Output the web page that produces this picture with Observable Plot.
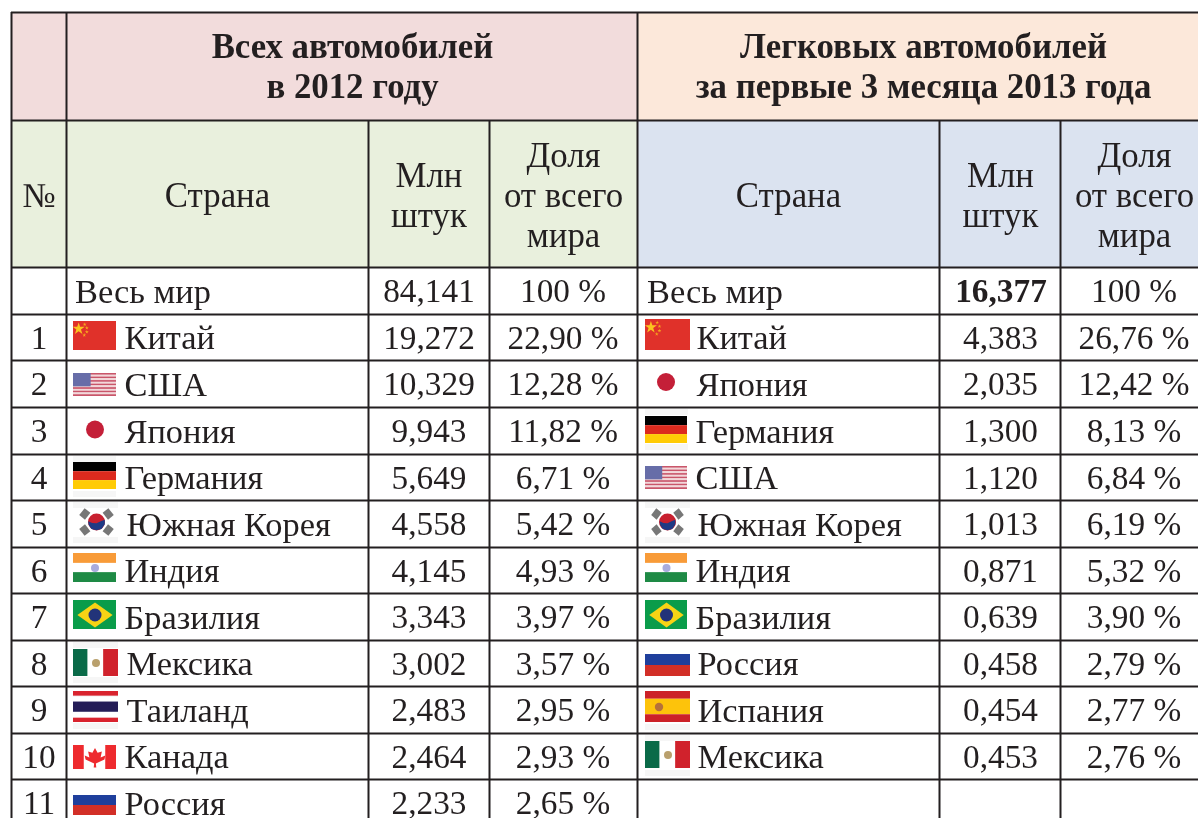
<!DOCTYPE html>
<html lang="ru">
<head>
<meta charset="utf-8">
<script src="https://cdn.jsdelivr.net/npm/d3@7"></script>
<script src="https://cdn.jsdelivr.net/npm/@observablehq/plot@0.6"></script>
<style>html,body{margin:0;padding:0;background:#fff}svg{display:block}</style>
</head>
<body>
<div id="chart"></div>
<script>
// ---------- data ----------
const ranks = ["1","2","3","4","5","6","7","8","9","10","11"];
const worldLabel = "Весь мир";
const countries2012 = ["Китай","США","Япония","Германия","Южная Корея","Индия","Бразилия","Мексика","Таиланд","Канада","Россия"];
const units2012 = ["19,272","10,329","9,943","5,649","4,558","4,145","3,343","3,002","2,483","2,464","2,233"];
const shares2012 = ["22,90 %","12,28 %","11,82 %","6,71 %","5,42 %","4,93 %","3,97 %","3,57 %","2,95 %","2,93 %","2,65 %"];
const countries2013 = ["Китай","Япония","Германия","США","Южная Корея","Индия","Бразилия","Россия","Испания","Мексика"];
const units2013 = ["4,383","2,035","1,300","1,120","1,013","0,871","0,639","0,458","0,454","0,453"];
const shares2013 = ["26,76 %","12,42 %","8,13 %","6,84 %","6,19 %","5,32 %","3,90 %","2,79 %","2,77 %","2,76 %"];
const world2012 = ["84,141","100 %"];
const world2013 = ["16,377","100 %"];
const titleLeft = "Всех автомобилей\nв 2012 году";
const titleRight = "Легковых автомобилей\nза первые 3 месяца 2013 года";
const headNo = "№", headCountry = "Страна", headUnits = "Млн\nштук", headShare = "Доля\nот всего\nмира";

// ---------- layout ----------
const W = 1198, H = 818;
const rowY = [12, 120, 267, 314, 360, 407, 454, 500, 547, 593, 640, 686, 733, 779];
const INK = "#231f20", FONT = "'Liberation Serif', serif";
const FS_NUM = 33.3, FS_WORD = 34.4, FS_HEAD = 34.8;
const midOf = i => (i + 3 < rowY.length ? (rowY[i + 2] + rowY[i + 3]) / 2 : (779 + 826) / 2) - 1;

const bgRects = [
  {x1: 11, x2: 637, y1: 12, y2: 120, f: "#f2dcdc"},
  {x1: 637, x2: W, y1: 12, y2: 120, f: "#fce8da"},
  {x1: 11, x2: 637, y1: 120, y2: 267, f: "#e9f0dd"},
  {x1: 637, x2: W, y1: 120, y2: 267, f: "#dbe3f0"}
];

const labelXLeft = [124,124,124,124,126,124,124,126,126,124,124];
const labelXRight = [696,696,695,695,697,695,695,697,697,697];

// text cells, one list for each text style
const numbers = [], labels = [], heads = [], bolds = [];
const put = (list, x, y, text) => list.push({x, y, text});
put(bolds, 352, 64.5, titleLeft);
put(bolds, 923, 64.5, titleRight);
put(heads, 38.5, 193.5, headNo);
put(heads, 217, 193.5, headCountry);
put(heads, 788, 193.5, headCountry);
for (const [cx, cs] of [[428.5, 563], [1000, 1134]]) {
  put(heads, cx, 193.5, headUnits);
  put(heads, cs, 193.5, headShare);
}
put(labels, 74.5, midOf(0), worldLabel);
put(numbers, 428.5, midOf(0), world2012[0]);
put(numbers, 562.5, midOf(0), world2012[1]);
put(labels, 646.5, midOf(0), worldLabel);
put(numbers, 1133.5, midOf(0), world2013[1]);
const boldValue = [{x: 1000.5, y: midOf(0), text: world2013[0]}];
ranks.forEach((r, i) => {
  const y = midOf(i + 1);
  put(numbers, 38.5, y, r);
  put(labels, labelXLeft[i], y, countries2012[i]);
  put(numbers, 428.5, y, units2012[i]);
  put(numbers, 562.5, y, shares2012[i]);
});
countries2013.forEach((c, i) => {
  const y = midOf(i + 1);
  put(labels, labelXRight[i], y, c);
  put(numbers, 1000, y, units2013[i]);
  put(numbers, 1133.5, y, shares2013[i]);
});

// ---------- flags, drawn in unit squares and placed in cells ----------
const stripesH = (...c) => c.map(([v1, v2, f]) => ({k: "r", u1: 0, u2: 1, v1, v2, f}));
const stripesV = (...c) => c.map(([u1, u2, f]) => ({k: "r", u1, u2, v1: 0, v2: 1, f}));
const usStripes = d3.range(13).map(i => ({k: "r", u1: 0, u2: 1, v1: i / 13, v2: (i + 1) / 13, f: i % 2 ? "#f2d8da" : "#c9566a"}));
const flagShapes = {
  china: [{k:"r",u1:0,u2:1,v1:0,v2:1,f:"#e0312a"},
    {k:"s",u:.12,v:.25,r:3.8,f:"#fbc41f"},{k:"s",u:.26,v:.1,r:1.2,f:"#f7a51e"},{k:"s",u:.31,v:.22,r:1.2,f:"#f7a51e"},{k:"s",u:.31,v:.36,r:1.2,f:"#f7a51e"},{k:"s",u:.25,v:.47,r:1.2,f:"#f7a51e"}],
  usa: [...usStripes, {k:"r",u1:0,u2:.41,v1:0,v2:.58,f:"#676da8"}],
  japan: [{k:"d",u:.5,v:.5,r:9,f:"#c41f38"}],
  germany: stripesH([0,.34,"#000"],[.34,.67,"#dc2a1e"],[.67,1,"#ffcb05"]),
  korea: [
    {k:"p",pts:[[.02,.2],[.17,-.1],[.33,.1],[.18,.4]],f:"#777"},
    {k:"p",pts:[[.67,.1],[.83,-.1],[.98,.2],[.82,.4]],f:"#777"},
    {k:"p",pts:[[.02,.8],[.18,.6],[.33,.9],[.17,1.1]],f:"#777"},
    {k:"p",pts:[[.67,.9],[.82,.6],[.98,.8],[.83,1.1]],f:"#777"},
    {k:"d",u:.5,v:.5,r:8.5,f:"#c8202f"},
    {k:"t",pts:[[.27,.47],[.38,.54],[.5,.55],[.62,.47],[.73,.4],[.73,.6],[.64,.8],[.5,.86],[.36,.8],[.28,.62]],f:"#1f3a85"}],
  india: [...stripesH([0,.34,"#f89b38"],[.66,1,"#1e8a45"]), {k:"d",u:.5,v:.5,r:4,f:"#a9abdd"}],
  brazil: [{k:"r",u1:0,u2:1,v1:0,v2:1,f:"#0a9c4a"},
    {k:"p",pts:[[.09,.5],[.5,.07],[.91,.5],[.5,.93]],f:"#f6d315"},
    {k:"d",u:.5,v:.5,r:6.5,f:"#223379"}],
  mexico: [...stripesV([0,.32,"#0a6a48"],[.67,1,"#d0222c"]), {k:"d",u:.5,v:.5,r:4,f:"#b9a06d"}],
  thailand: stripesH([0,.15,"#d9232e"],[.34,.67,"#241d57"],[.86,1,"#d9232e"]),
  canada: [...stripesV([0,.25,"#ee2a2e"],[.75,1,"#ee2a2e"]),
    {k:"p",pts:[[.5,.1],[.56,.3],[.66,.25],[.63,.5],[.74,.42],[.72,.58],[.52,.75],[.53,.92],[.47,.92],[.48,.75],[.28,.58],[.26,.42],[.37,.5],[.34,.25],[.44,.3]],f:"#ee2a2e"}],
  russia: stripesH([0,.5,"#1f3f9c"],[.5,1,"#d22f27"]),
  spain: [...stripesH([0,.25,"#cc2128"],[.25,.75,"#fdc30b"],[.75,1,"#cc2128"]),
    {k:"d",u:.3,v:.5,r:4.2,f:"#b5713a"}]
};
// placement: [shape, x1, x2, y1, y2, optional pale backing y1, y2, x2]
const placements = [
  ["china",73,116,321,350],["usa",73,116,373,396],["japan",73,116,414,444],
  ["germany",73,116,462,489,456,497,116],["korea",78,114,510,533,502,543,118],
  ["india",73,116,553,582],["brazil",73,116,600,629],
  ["mexico",73,118,649,676,642,683,118],["thailand",73,118,691,722,691,729,118],
  ["canada",73,116,745,769],["russia",73,116,795,815],
  ["china",645,690,319,350],["japan",645,686,367,396],
  ["germany",645,687,416,443,409,450,688],["usa",645,687,466,489],
  ["korea",650,684,510,533,502,543,690],
  ["india",645,687,553,582],["brazil",645,687,600,629],
  ["russia",645,690,654,676],["spain",645,690,691,722,691,730,690],
  ["mexico",645,690,741,768,735,776,690]
];
const fRects = [], fDots = [], fStars = [], fPolys = [], fTops = [], fBacks = [];
placements.forEach(([name, x1, x2, y1, y2, by1, by2, bx2], n) => {
  if (by1 !== undefined) fBacks.push({x1: name === "korea" ? x1 - 5 : x1, x2: bx2, y1: by1, y2: by2});
  const X = u => x1 + u * (x2 - x1), Y = v => y1 + v * (y2 - y1);
  flagShapes[name].forEach((s, m) => {
    if (s.k === "r") fRects.push({x1: X(s.u1), x2: X(s.u2), y1: Y(s.v1), y2: Y(s.v2), f: s.f});
    if (s.k === "d") fDots.push({x: X(s.u), y: Y(s.v), r: s.r, f: s.f});
    if (s.k === "s") fStars.push({x: X(s.u), y: Y(s.v), r: s.r, f: s.f});
    if (s.k === "p") s.pts.forEach(([u, v]) => fPolys.push({x: X(u), y: Y(v), z: `${n}-${m}`, f: s.f}));
    if (s.k === "t") s.pts.forEach(([u, v]) => fTops.push({x: X(u), y: Y(v), z: `${n}-${m}`, f: s.f}));
  });
});

// ---------- rules ----------
const hLines = rowY.map(y => ({x1: 11, x2: W, y}));
const vLines = [
  {x: 11, y1: 12, y2: H}, {x: 66, y1: 12, y2: H},
  {x: 368, y1: 120, y2: H}, {x: 489, y1: 120, y2: H},
  {x: 637, y1: 12, y2: H},
  {x: 939, y1: 120, y2: H}, {x: 1060, y1: 120, y2: H}
];
const blur = "blur(0.6px)";
const textOpts = (extra) => ({
  x: "x", y: "y", text: "text", lineAnchor: "middle", lineHeight: 1.15,
  fontFamily: FONT, fill: INK, imageFilter: "blur(0.3px)", ...extra
});

const plot = Plot.plot({
  width: W, height: H, margin: 0,
  x: {type: "linear", domain: [0, W], range: [0, W], axis: null},
  y: {type: "linear", domain: [0, H], range: [0, H], axis: null},
  r: {type: "identity"},
  color: {type: "identity"},
  style: {background: "#fff"},
  marks: [
    Plot.rect(bgRects, {x1: "x1", x2: "x2", y1: "y1", y2: "y2", fill: "f"}),
    Plot.rect(fBacks, {x1: "x1", x2: "x2", y1: "y1", y2: "y2", fill: "#f6f6f6", imageFilter: "blur(0.4px)"}),
    Plot.rect(fBacks, {x1: "x1", x2: "x2", y1: d => d.y1 + 6, y2: d => d.y2 - 6, fill: "#fff", imageFilter: "blur(0.4px)"}),
    Plot.rect(fRects, {x1: "x1", x2: "x2", y1: "y1", y2: "y2", fill: "f", imageFilter: blur}),
    Plot.line(fPolys, {x: "x", y: "y", z: "z", fill: "f", stroke: null, imageFilter: blur}),
    Plot.dot(fDots, {x: "x", y: "y", r: "r", fill: "f", stroke: null, imageFilter: blur}),
    Plot.line(fTops, {x: "x", y: "y", z: "z", fill: "f", stroke: null, imageFilter: blur}),
    Plot.dot(fStars, {x: "x", y: "y", r: "r", fill: "f", stroke: null, symbol: "star", imageFilter: blur}),
    Plot.ruleY(hLines, {x1: "x1", x2: "x2", y: "y", stroke: INK, strokeWidth: 2}),
    Plot.ruleX(vLines, {x: "x", y1: "y1", y2: "y2", stroke: INK, strokeWidth: 2}),
    Plot.text(numbers, textOpts({fontSize: FS_NUM, textAnchor: "middle"})),
    Plot.text(labels, textOpts({fontSize: FS_WORD, textAnchor: "start"})),
    Plot.text(heads, textOpts({fontSize: FS_HEAD, textAnchor: "middle"})),
    Plot.text(bolds, textOpts({fontSize: FS_HEAD, textAnchor: "middle", fontWeight: "bold"})),
    Plot.text(boldValue, textOpts({fontSize: FS_NUM, textAnchor: "middle", fontWeight: "bold"}))
  ]
});
document.getElementById("chart").appendChild(plot);
</script>
</body>
</html>
